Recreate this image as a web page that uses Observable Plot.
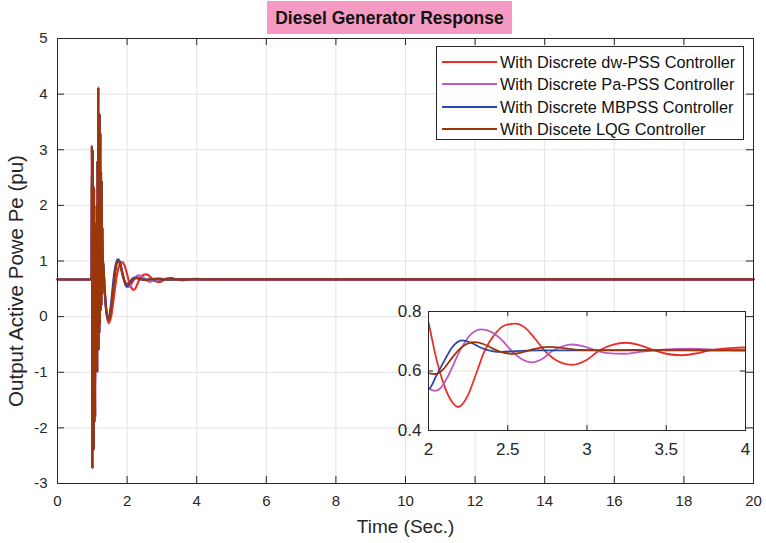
<!DOCTYPE html>
<html>
<head>
<meta charset="utf-8">
<script src="https://cdn.jsdelivr.net/npm/d3@7"></script>
<script src="https://cdn.jsdelivr.net/npm/@observablehq/plot@0.6"></script>
<style>
  body { margin: 0; background: #fff; font-family: "Liberation Sans", Arial, Helvetica, sans-serif; }
  #wrap { position: relative; width: 766px; height: 543px; overflow: hidden; background: #fff; }
  #wrap svg { position: absolute; }
  #title { position: absolute; left: 267px; top: 1px; width: 245px; height: 33px; background: #F59BC3;
           color: #111; font-weight: bold; font-size: 17.5px; line-height: 34px; text-align: center; }
  #legend { position: absolute; left: 436px; top: 46px; width: 308px; height: 94px; box-sizing: border-box;
            border: 1px solid #262626; background: #fff; }
  .lrow { position: absolute; left: 0; height: 22px; width: 100%; }
  .lline { position: absolute; left: 5px; width: 55px; top: 10px; height: 2px; }
  .ltext { position: absolute; left: 63px; top: 0; font-size: 16.3px; line-height: 22px; color: #111; white-space: nowrap; }
</style>
</head>
<body>
<div id="wrap">
  <div id="title">Diesel Generator Response</div>
</div>
<script>
// ---------- data ----------
const seriesNames = [
  "With Discrete dw-PSS Controller",
  "With Discrete Pa-PSS Controller",
  "With Discrete MBPSS Controller",
  "With Discete LQG Controller"
];
const seriesColors = ["#E8302A", "#BF5ABF", "#2B46AA", "#9A360A"];

const titleText = "Diesel Generator Response";
const xLabel = "Time (Sec.)";
const yLabel = "Output Active Powe Pe (pu)";

const xTicks = [0, 2, 4, 6, 8, 10, 12, 14, 16, 18, 20];
const yTicks = [-3, -2, -1, 0, 1, 2, 3, 4, 5];
const insetXTicks = [2, 2.5, 3, 3.5, 4];
const insetYTicks = [0.4, 0.6, 0.8];

// pre-fault steady state (shared)
const preTime  = [0, 0.98];
const preValue = [0.667, 0.667];

// fault oscillation (shared by all controllers)
const faultTime  = [0.99,1.00,1.01,1.02,1.03,1.04,1.05,1.06,1.07,1.08,1.09,1.10,1.11,1.12,1.13,1.14,
                    1.15,1.16,1.17,1.18,1.19,1.20,1.21,1.22,1.23,1.24,1.25,1.26,1.27,1.28,1.29,1.30];
const faultValue = [3.07,-2.73,3.00,-2.05,2.35,-2.40,2.30,-1.90,1.70,-1.80,1.30,-1.00,1.45,-0.95,2.00,-1.00,
                    2.80,-0.50,4.12,-0.60,3.50,-0.30,3.65,-0.15,3.30,0.10,2.60,0.20,2.45,0.40,1.60,0.60];

// post-fault recovery, per controller
const redTime  = [1.31,1.35,1.40,1.47,1.54,1.62,1.70,1.78,1.86,1.92,2.00,2.05,2.10,2.15,2.187,2.25,2.30,2.356,2.42,2.48,
                  2.547,2.61,2.67,2.73,2.80,2.908,3.00,3.08,3.16,3.247,3.33,3.42,3.50,3.597,3.70,3.78,3.90,4.00,4.15,4.30,4.50,4.70,5.00,20];
const redValue = [1.00,0.55,0.12,-0.12,0.00,0.35,0.72,0.93,0.98,0.93,0.763,0.64,0.55,0.495,0.479,0.52,0.59,0.67,0.725,0.753,
                  0.759,0.745,0.71,0.67,0.638,0.621,0.638,0.67,0.688,0.695,0.687,0.67,0.658,0.653,0.66,0.67,0.677,0.679,0.675,0.667,0.664,0.668,0.668,0.668];

const magTime  = [1.31,1.35,1.40,1.46,1.52,1.58,1.64,1.70,1.76,1.82,1.88,1.94,2.00,2.04,2.08,2.13,2.20,2.27,2.335,2.40,
                  2.47,2.52,2.58,2.653,2.72,2.78,2.85,2.908,2.98,3.05,3.13,3.226,3.35,3.50,3.65,3.80,4.00,20];
const magValue = [1.00,0.52,0.12,-0.05,0.08,0.40,0.75,0.97,1.00,0.90,0.75,0.62,0.544,0.533,0.545,0.59,0.67,0.725,0.74,0.73,
                  0.70,0.67,0.643,0.629,0.641,0.667,0.684,0.689,0.683,0.67,0.66,0.658,0.665,0.673,0.675,0.672,0.669,0.668];

const blueTime  = [1.31,1.35,1.40,1.45,1.50,1.56,1.62,1.68,1.74,1.80,1.86,1.92,1.97,2.00,2.05,2.10,2.15,2.208,2.27,2.33,
                   2.40,2.46,2.55,2.70,3.00,4.00,20];
const blueValue = [1.00,0.50,0.10,-0.04,0.05,0.35,0.72,0.95,1.03,0.97,0.80,0.64,0.55,0.539,0.585,0.635,0.68,0.703,0.695,0.678,
                   0.667,0.664,0.667,0.669,0.669,0.669,0.668];

const brownTime  = [1.31,1.35,1.40,1.46,1.52,1.58,1.64,1.70,1.76,1.82,1.88,1.94,2.00,2.05,2.10,2.15,2.20,2.25,2.293,2.35,
                    2.40,2.45,2.526,2.60,2.67,2.76,2.85,2.95,3.05,3.30,3.60,4.00,20];
const brownValue = [1.00,0.55,0.15,-0.07,0.05,0.35,0.70,0.95,1.00,0.88,0.72,0.62,0.593,0.59,0.61,0.645,0.675,0.693,0.697,0.69,
                    0.677,0.665,0.658,0.664,0.674,0.681,0.677,0.671,0.670,0.671,0.670,0.669,0.668];

// ---------- build table ----------
const ownTimes  = [redTime, magTime, blueTime, brownTime];
const ownValues = [redValue, magValue, blueValue, brownValue];
const rows = [];
seriesNames.forEach((name, i) => {
  const T = preTime.concat(faultTime, ownTimes[i]);
  const V = preValue.concat(faultValue, ownValues[i]);
  T.forEach((t, j) => rows.push({series: name, t, v: V[j]}));
});

const FONT = '"Liberation Sans", Arial, Helvetica, sans-serif';
const INK = "#262626";
const GRID = "#e3e3e3";

// ---------- main chart ----------
const W = 766, H = 543, mT = 38, mR = 13, mB = 60, mL = 57;
const fw = W - mL - mR, fh = H - mT - mB;
const tick = 7;

const main = Plot.plot({
  width: W, height: H,
  marginTop: mT, marginRight: mR, marginBottom: mB, marginLeft: mL,
  style: {background: "transparent", fontFamily: FONT, color: INK, overflow: "visible", maxWidth: "none"},
  x: {domain: [0, 20], label: null},
  y: {domain: [-3, 5], label: null},
  color: {domain: seriesNames, range: seriesColors},
  marks: [
    Plot.gridX(xTicks, {stroke: GRID, strokeOpacity: 1}),
    Plot.gridY(yTicks, {stroke: GRID, strokeOpacity: 1}),
    Plot.line(rows, {x: "t", y: "v", z: "series", stroke: "series", strokeWidth: 2.2, curve: "monotone-x"}),
    Plot.tickX(xTicks, {x: d => d, stroke: INK, insetTop: fh - tick}),
    Plot.tickX(xTicks, {x: d => d, stroke: INK, insetBottom: fh - tick}),
    Plot.tickY(yTicks, {y: d => d, stroke: INK, insetRight: fw - tick}),
    Plot.tickY(yTicks, {y: d => d, stroke: INK, insetLeft: fw - tick}),
    Plot.frame({stroke: INK}),
    Plot.axisX(xTicks, {tickSize: 0, tickPadding: 12, fontSize: 15, tickFormat: d => String(d), fill: INK}),
    Plot.axisY(yTicks, {tickSize: 0, tickPadding: 10, fontSize: 15, tickFormat: d => String(d), fill: INK}),
    Plot.text([xLabel], {text: d => d, frameAnchor: "bottom", dy: 49, fontSize: 19, fill: INK}),
    Plot.text([yLabel], {text: d => d, frameAnchor: "left", textAnchor: "middle", rotate: -90, dx: -41, dy: 20, fontSize: 20.5, fill: INK})
  ]
});
main.style.left = "0px";
main.style.top = "0px";

// ---------- inset ----------
const iW = 372, iH = 161, imT = 10, imR = 10, imB = 32, imL = 45;
const ifw = iW - imL - imR, ifh = iH - imT - imB;
const itick = 5;
const inset = Plot.plot({
  width: iW, height: iH,
  marginTop: imT, marginRight: imR, marginBottom: imB, marginLeft: imL,
  style: {background: "transparent", fontFamily: FONT, color: INK, overflow: "visible", maxWidth: "none"},
  x: {domain: [2, 4], label: null},
  y: {domain: [0.4, 0.8], label: null},
  color: {domain: seriesNames, range: seriesColors},
  marks: [
    Plot.frame({fill: "white"}),
    Plot.gridX(insetXTicks, {stroke: GRID, strokeOpacity: 1}),
    Plot.gridY(insetYTicks, {stroke: GRID, strokeOpacity: 1}),
    Plot.line(rows, {x: "t", y: "v", z: "series", stroke: "series", strokeWidth: 1.8, curve: "monotone-x", clip: true}),
    Plot.tickX(insetXTicks, {x: d => d, stroke: INK, insetTop: ifh - itick}),
    Plot.tickX(insetXTicks, {x: d => d, stroke: INK, insetBottom: ifh - itick}),
    Plot.tickY(insetYTicks, {y: d => d, stroke: INK, insetRight: ifw - itick}),
    Plot.tickY(insetYTicks, {y: d => d, stroke: INK, insetLeft: ifw - itick}),
    Plot.frame({stroke: INK}),
    Plot.axisX(insetXTicks, {tickSize: 0, tickPadding: 12, fontSize: 17, tickFormat: d => String(d), fill: INK}),
    Plot.axisY(insetYTicks, {tickSize: 0, tickPadding: 7, fontSize: 17, tickFormat: d => String(d), fill: INK})
  ]
});
inset.style.left = "383px";
inset.style.top = "301px";

const wrap = document.getElementById("wrap");
const titleEl = document.getElementById("title");
titleEl.textContent = titleText;
wrap.insertBefore(main, titleEl);
wrap.insertBefore(inset, titleEl);

// ---------- legend ----------
const legend = document.createElement("div");
legend.id = "legend";
seriesNames.forEach((name, i) => {
  const row = document.createElement("div");
  row.className = "lrow";
  row.style.top = (4 + i * 22.3) + "px";
  const ln = document.createElement("div");
  ln.className = "lline";
  ln.style.background = seriesColors[i];
  const tx = document.createElement("div");
  tx.className = "ltext";
  tx.textContent = name;
  row.appendChild(ln); row.appendChild(tx);
  legend.appendChild(row);
});
wrap.appendChild(legend);
</script>
</body>
</html>
